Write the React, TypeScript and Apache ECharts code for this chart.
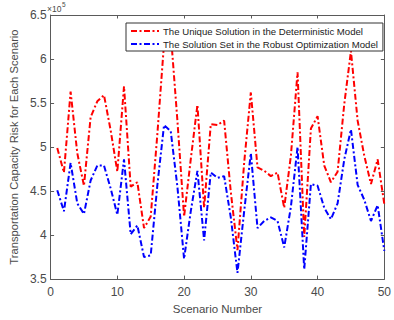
import React, { useEffect, useRef } from "react";
import * as echarts from "echarts";

const scenarios = [
  1, 2, 3, 4, 5, 6, 7, 8, 9, 10, 11, 12, 13, 14, 15, 16, 17, 18, 19, 20, 21, 22, 23, 24, 25,
  26, 27, 28, 29, 30, 31, 32, 33, 34, 35, 36, 37, 38, 39, 40, 41, 42, 43, 44, 45, 46, 47, 48, 49, 50,
];

// values in units of 1e5
const deterministic = [
  4.99, 4.71, 5.63, 4.93, 4.56, 5.34, 5.52, 5.59, 5.19, 4.72,
  5.69, 4.55, 4.6, 4.08, 4.21, 5.15, 6.18, 6.3, 5.3, 4.21,
  4.86, 5.48, 4.31, 5.26, 5.25, 5.3, 4.49, 3.83, 4.82, 5.62,
  4.77, 4.73, 4.67, 4.71, 4.31, 4.9, 5.85, 3.98, 5.21, 5.35,
  4.79, 4.6, 4.72, 5.49, 6.09, 5.3, 4.9, 4.58, 4.86, 4.35,
];

const robust = [
  4.51, 4.27, 4.82, 4.36, 4.24, 4.62, 4.79, 4.79, 4.53, 4.23,
  4.86, 4.01, 4.11, 3.75, 3.77, 4.57, 5.25, 5.18, 4.55, 3.73,
  4.27, 4.73, 3.94, 4.71, 4.65, 4.67, 4.2, 3.57, 4.27, 4.93,
  4.08, 4.16, 4.2, 4.16, 3.86, 4.32, 5.0, 3.61, 4.58, 4.56,
  4.31, 4.18, 4.36, 4.86, 5.2, 4.57, 4.4, 4.16, 4.34, 3.82,
];

const seriesNames = [
  "The Unique Solution in the Deterministic Model",
  "The Solution Set in the Robust Optimization Model",
];

const FONT = "'Liberation Sans', Arial, Helvetica, sans-serif";
const AXIS_COLOR = "#5a5a5a";
const TEXT_COLOR = "#4a4a4a";

export default function App() {
  const ref = useRef<HTMLDivElement>(null);

  useEffect(() => {
    if (!ref.current) return;
    const chart = echarts.init(ref.current, null, { renderer: "svg" });

    const dash = [6, 2.5, 2, 2.5];
    const axisCommon = {
      type: "value" as const,
      axisLine: { show: true, onZero: false, lineStyle: { color: AXIS_COLOR, width: 1 } },
      axisTick: { show: true, inside: true, length: 3.5, lineStyle: { color: AXIS_COLOR } },
      splitLine: { show: false },
    };

    chart.setOption({
      animation: false,
      backgroundColor: "#ffffff",
      grid: { left: 46, top: 15, right: 5, bottom: 34, containLabel: false },
      xAxis: [
        {
          ...axisCommon,
          position: "bottom",
          min: 0,
          max: 50,
          interval: 10,
          axisLabel: { color: TEXT_COLOR, fontSize: 12, fontFamily: FONT, margin: 7 },
          name: "Scenario Number",
          nameLocation: "middle",
          nameGap: 22,
          nameTextStyle: { color: TEXT_COLOR, fontSize: 11.5, fontFamily: FONT },
        },
        {
          ...axisCommon,
          position: "top",
          min: 0,
          max: 50,
          interval: 10,
          axisLabel: { show: false },
        },
      ],
      yAxis: [
        {
          ...axisCommon,
          position: "left",
          min: 3.5,
          max: 6.5,
          interval: 0.5,
          axisLabel: {
            color: TEXT_COLOR,
            fontSize: 12,
            fontFamily: FONT,
            margin: 4,
            formatter: (v: number) => String(v),
          },
          name: "Transportation Capacity Risk for Each Scenario",
          nameLocation: "middle",
          nameGap: 25,
          nameTextStyle: { color: TEXT_COLOR, fontSize: 11.2, fontFamily: FONT },
        },
        {
          ...axisCommon,
          position: "right",
          min: 3.5,
          max: 6.5,
          interval: 0.5,
          axisLabel: { show: false },
        },
      ],
      legend: {
        orient: "vertical",
        left: 126,
        top: 23,
        width: 254,
        backgroundColor: "#ffffff",
        borderColor: "#333333",
        borderWidth: 1,
        borderRadius: 0,
        padding: [3, 5, 2, 4],
        itemGap: 3,
        itemWidth: 28,
        itemHeight: 8,
        itemStyle: { opacity: 0 },
        textStyle: { color: "#222222", fontSize: 9.6, fontFamily: FONT, padding: [0, 0, 0, -1] },
        data: seriesNames,
      },
      graphic: [
        {
          type: "text",
          left: 47,
          top: 4,
          style: { text: "×10", fill: TEXT_COLOR, fontSize: 8.5, fontFamily: FONT },
        },
        {
          type: "text",
          left: 62,
          top: 1,
          style: { text: "5", fill: TEXT_COLOR, fontSize: 6.5, fontFamily: FONT },
        },
      ],
      series: [
        {
          name: seriesNames[0],
          type: "line",
          xAxisIndex: 0,
          yAxisIndex: 0,
          symbol: "none",
          color: "#ff0000",
          lineStyle: { color: "#ff0000", width: 2, type: dash },
          data: scenarios.map((s, i) => [s, deterministic[i]]),
        },
        {
          name: seriesNames[1],
          type: "line",
          xAxisIndex: 0,
          yAxisIndex: 0,
          symbol: "none",
          color: "#0000ff",
          lineStyle: { color: "#0000ff", width: 2, type: dash },
          data: scenarios.map((s, i) => [s, robust[i]]),
        },
      ],
    });

    return () => chart.dispose();
  }, []);

  return (
    <div
      ref={ref}
      style={{ position: "absolute", left: 0, top: 0, width: 394, height: 320, background: "#fff" }}
    />
  );
}
